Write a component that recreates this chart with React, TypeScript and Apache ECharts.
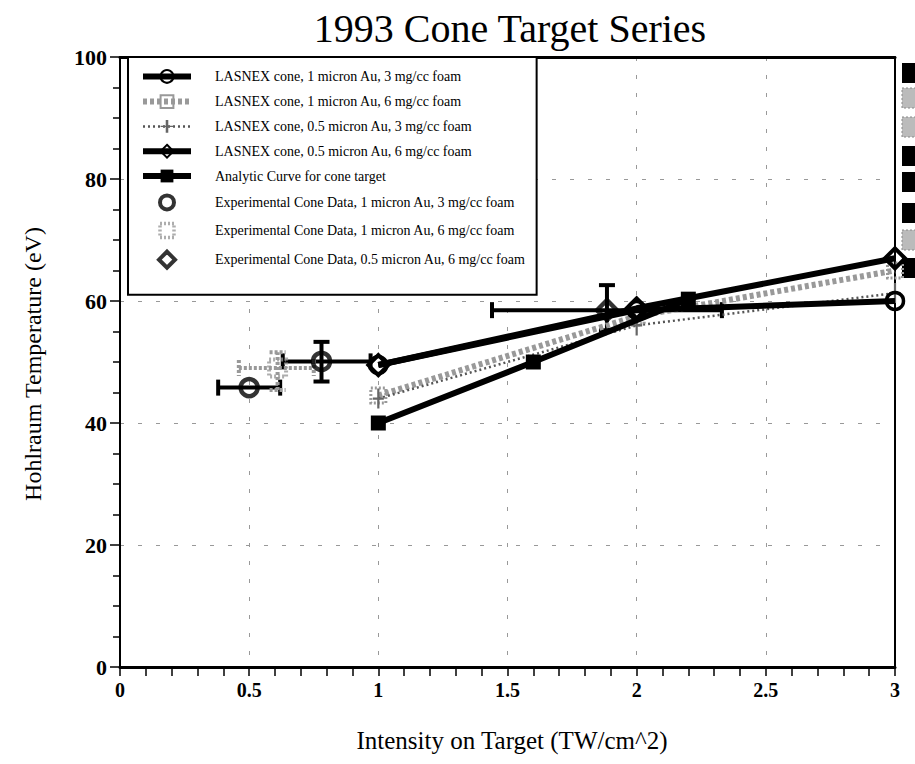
import React, { useEffect, useRef } from "react";
import * as echarts from "echarts";

// ---- data ----
const titleText = "1993 Cone Target Series";
const xName = "Intensity on Target (TW/cm^2)";
const yName = "Hohlraum Temperature (eV)";

const seriesNames = [
  "LASNEX cone, 1 micron Au, 3 mg/cc foam",
  "LASNEX cone, 1 micron Au, 6 mg/cc foam",
  "LASNEX cone, 0.5 micron Au, 3 mg/cc foam",
  "LASNEX cone, 0.5 micron Au, 6 mg/cc foam",
  "Analytic Curve for cone target",
  "Experimental Cone Data, 1 micron Au, 3 mg/cc foam",
  "Experimental Cone Data, 1 micron Au, 6 mg/cc foam",
  "Experimental Cone Data, 0.5 micron Au, 6 mg/cc foam",
];

const lasnex1u3mgX = [1.0, 2.0, 3.0];
const lasnex1u3mgY = [49.5, 58.5, 60.0];
const lasnex1u6mgX = [1.0, 2.0, 3.0];
const lasnex1u6mgY = [44.5, 57.5, 65.0];
const lasnex05u3mgX = [1.0, 2.0, 3.0];
const lasnex05u3mgY = [44.0, 56.0, 61.3];
const lasnex05u6mgX = [1.0, 2.0, 3.0];
const lasnex05u6mgY = [49.5, 58.8, 67.0];
const analyticX = [1.0, 1.6, 2.2];
const analyticY = [40.0, 50.0, 60.3];

// experimental points with error ranges [low, high]
const exp1u3mgX = [0.5, 0.78];
const exp1u3mgY = [45.8, 50.1];
const exp1u3mgXErr = [[0.38, 0.62], [0.63, 0.97]];
const exp1u3mgYErr = [[45.8, 45.8], [46.8, 53.3]];

const exp1u6mgX = [0.61];
const exp1u6mgY = [49.0];
const exp1u6mgXErr = [[0.46, 0.75]];
const exp1u6mgYErr = [[45.4, 51.6]];

const exp05u6mgX = [1.885];
const exp05u6mgY = [58.5];
const exp05u6mgXErr = [[1.44, 2.33]];
const exp05u6mgYErr = [[55.2, 62.6]];

const xTickValues = [0, 0.5, 1, 1.5, 2, 2.5, 3];
const yTickValues = [0, 20, 40, 60, 80, 100];

// partial (cut off) legend blocks at right edge: 1 = black, 0 = gray
const rightBlocks = [1, 0, 0, 1, 1, 1, 0, 1];
const rightBlockTops = [63, 88, 117, 146, 172, 203, 230, 258];

const pts = (xs: number[], ys: number[]) => xs.map((x, i) => [x, ys[i]]);
const errPts = (xs: number[], ys: number[], xe: number[][], ye: number[][]) =>
  xs.map((x, i) => [x, ys[i], xe[i][0], xe[i][1], ye[i][0], ye[i][1]]);

const SERIF = "Liberation Serif";
const plusPath =
  "path://M4,0 L6,0 L6,8 L10,8 L10,10 L6,10 L6,18 L4,18 L4,10 L0,10 L0,8 L4,8 Z";
// legend icons padded to the 48x16 legend box so that they keep their shape
const legendCircleIcon =
  "path://M0,8 L0,8 M48,8 L48,8 M31,8 A7,7 0 1 1 17,8 A7,7 0 1 1 31,8 Z";
const legendSquareIcon = "path://M0,8 L0,8 M48,8 L48,8 M17,1 L31,1 L31,15 L17,15 Z";
const legendDiamondIcon = "path://M0,8 L0,8 M48,8 L48,8 M24,0 L32,8 L24,16 L16,8 Z";

function errorSeries(data: number[][], color: string, dash: number[] | null) {
  return {
    type: "custom",
    silent: true,
    z: 3,
    data,
    encode: { x: 0, y: 1 },
    renderItem: (params: any, api: any) => {
      const x = api.value(0);
      const y = api.value(1);
      const xl = api.value(2);
      const xh = api.value(3);
      const yl = api.value(4);
      const yh = api.value(5);
      const style: any = { stroke: color, lineWidth: 4 };
      if (dash) style.lineDash = dash;
      const children: any[] = [];
      const cap = 8;
      if (xh > xl) {
        const a = api.coord([xl, y]);
        const b = api.coord([xh, y]);
        children.push({ type: "line", shape: { x1: a[0], y1: a[1], x2: b[0], y2: b[1] }, style });
        children.push({ type: "line", shape: { x1: a[0], y1: a[1] - cap, x2: a[0], y2: a[1] + cap }, style });
        children.push({ type: "line", shape: { x1: b[0], y1: b[1] - cap, x2: b[0], y2: b[1] + cap }, style });
      }
      if (yh > yl) {
        const a = api.coord([x, yl]);
        const b = api.coord([x, yh]);
        children.push({ type: "line", shape: { x1: a[0], y1: a[1], x2: b[0], y2: b[1] }, style });
        children.push({ type: "line", shape: { x1: a[0] - cap, y1: a[1], x2: a[0] + cap, y2: a[1] }, style });
        children.push({ type: "line", shape: { x1: b[0] - cap, y1: b[1], x2: b[0] + cap, y2: b[1] }, style });
      }
      return { type: "group", children };
    },
  };
}

export default function App() {
  const ref = useRef<HTMLDivElement>(null);

  useEffect(() => {
    if (!ref.current) return;
    const chart = echarts.init(ref.current, null, { renderer: "svg" });

    const rightGraphics = rightBlocks.map((b, i) => ({
      type: "rect",
      shape: { x: 902, y: rightBlockTops[i], width: 14, height: 20 },
      style: b ? { fill: "#000" } : { fill: "#bbb", stroke: "#888", lineWidth: 1, lineDash: [2, 2] },
    }));

    const lineStyles: any[] = [
      { color: "#000", width: 6 },
      { color: "#999", width: 6, type: [4, 3] },
      { color: "#555", width: 2.5, type: [2, 3] },
      { color: "#000", width: 6 },
      { color: "#000", width: 6 },
    ];
    const legendIcons = [legendCircleIcon, legendSquareIcon, legendDiamondIcon];
    const legendIconStyles: any[] = [
      { color: "rgba(255,255,255,0)", borderColor: "#000", borderWidth: 4 },
      { color: "rgba(255,255,255,0)", borderColor: "#999", borderWidth: 3.5, borderType: [2, 2] },
      { color: "rgba(255,255,255,0)", borderColor: "#000", borderWidth: 4 },
    ];

    const legendData = seriesNames.map((n, i) =>
      i < 5
        ? { name: n, lineStyle: lineStyles[i] }
        : { name: n, icon: legendIcons[i - 5], itemStyle: legendIconStyles[i - 5] }
    );

    const option: any = {
      animation: false,
      backgroundColor: "#fff",
      grid: {
        left: 120,
        right: 20,
        top: 57,
        bottom: 97,
        show: false,
      },
      xAxis: [
        {
          type: "value",
          min: 0,
          max: 3,
          interval: 0.5,
          axisLine: { show: true, onZero: false, lineStyle: { color: "#000", width: 3 } },
          axisTick: { show: true, length: 9, lineStyle: { color: "#000", width: 1.5 } },
          minorTick: { show: true, splitNumber: 5, length: 9, lineStyle: { color: "#000", width: 1.5 } },
          axisLabel: {
            color: "#000",
            fontFamily: SERIF,
            fontWeight: "bold",
            fontSize: 20,
            margin: 13,
            formatter: (v: number) => (xTickValues.includes(v) ? String(v) : ""),
          },
          splitLine: { show: true, lineStyle: { color: "#999", width: 1, type: [4, 14] } },
        },
        {
          type: "value",
          position: "top",
          min: 0,
          max: 3,
          interval: 0.5,
          axisLine: { show: true, onZero: false, lineStyle: { color: "#000", width: 3 } },
          axisTick: { show: false },
          axisLabel: { show: false },
          splitLine: { show: false },
        },
      ],
      yAxis: [
        {
          type: "value",
          min: 0,
          max: 100,
          interval: 20,
          axisLine: { show: true, onZero: false, lineStyle: { color: "#000", width: 2 } },
          axisTick: { show: true, length: 10, lineStyle: { color: "#000", width: 1.5 } },
          minorTick: { show: true, splitNumber: 4, length: 7, lineStyle: { color: "#000", width: 1.5 } },
          axisLabel: {
            color: "#000",
            fontFamily: SERIF,
            fontWeight: "bold",
            fontSize: 22,
            margin: 13,
            formatter: (v: number) => (yTickValues.includes(v) ? String(v) : ""),
          },
          splitLine: { show: true, lineStyle: { color: "#999", width: 1, type: [4, 14] } },
        },
        {
          type: "value",
          position: "right",
          min: 0,
          max: 100,
          interval: 20,
          axisLine: { show: true, onZero: false, lineStyle: { color: "#000", width: 2 } },
          axisTick: { show: false },
          axisLabel: { show: false },
          splitLine: { show: false },
        },
      ],
      legend: {
        orient: "vertical",
        left: 128,
        top: 57,
        padding: [12, 11, 25, 12],
        itemWidth: 48,
        itemHeight: 16,
        itemGap: 10.4,
        backgroundColor: "#fff",
        borderColor: "#000",
        borderWidth: 2,
        borderRadius: 0,
        selectedMode: false,
        textStyle: { fontFamily: SERIF, fontSize: 14, color: "#000", padding: [0, 0, 0, 19] },
        data: legendData,
      },
      graphic: [
        {
          type: "text",
          x: 510,
          y: 28,
          style: {
            text: titleText,
            font: `40px "${SERIF}"`,
            fill: "#000",
            textAlign: "center",
            textVerticalAlign: "middle",
          },
        },
        {
          type: "text",
          x: 512,
          y: 740,
          style: {
            text: xName,
            font: `25px "${SERIF}"`,
            fill: "#000",
            textAlign: "center",
            textVerticalAlign: "middle",
          },
        },
        {
          type: "text",
          x: 33,
          y: 364,
          rotation: Math.PI / 2,
          style: {
            text: yName,
            font: `24px "${SERIF}"`,
            fill: "#000",
            textAlign: "center",
            textVerticalAlign: "middle",
          },
        },
        ...rightGraphics,
      ],
      series: [
        {
          name: seriesNames[0],
          type: "line",
          data: pts(lasnex1u3mgX, lasnex1u3mgY),
          symbol: "circle",
          symbolSize: 17,
          lineStyle: lineStyles[0],
          itemStyle: { color: "rgba(255,255,255,0)", borderColor: "#000", borderWidth: 3.5 },
          z: 4,
        },
        {
          name: seriesNames[1],
          type: "line",
          data: pts(lasnex1u6mgX, lasnex1u6mgY),
          symbol: "rect",
          symbolSize: 15,
          lineStyle: lineStyles[1],
          itemStyle: { color: "rgba(255,255,255,0)", borderColor: "#999", borderWidth: 3, borderType: [2, 2] },
          z: 3,
        },
        {
          name: seriesNames[2],
          type: "line",
          data: pts(lasnex05u3mgX, lasnex05u3mgY),
          symbol: plusPath,
          symbolSize: [11, 20],
          lineStyle: lineStyles[2],
          itemStyle: { color: "#666" },
          z: 3,
        },
        {
          name: seriesNames[3],
          type: "line",
          data: pts(lasnex05u6mgX, lasnex05u6mgY),
          symbol: "diamond",
          symbolSize: 20,
          lineStyle: lineStyles[3],
          itemStyle: { color: "rgba(255,255,255,0)", borderColor: "#000", borderWidth: 4 },
          z: 4,
        },
        {
          name: seriesNames[4],
          type: "line",
          data: pts(analyticX, analyticY),
          symbol: "rect",
          symbolSize: 15,
          lineStyle: lineStyles[4],
          itemStyle: { color: "#000" },
          z: 4,
        },
        {
          name: seriesNames[5],
          type: "scatter",
          data: pts(exp1u3mgX, exp1u3mgY),
          symbol: "circle",
          symbolSize: 17,
          itemStyle: { color: "rgba(255,255,255,0)", borderColor: "#000", borderWidth: 4.5 },
          z: 5,
        },
        {
          name: seriesNames[6],
          type: "scatter",
          data: pts(exp1u6mgX, exp1u6mgY),
          symbol: "rect",
          symbolSize: 17,
          itemStyle: { color: "rgba(255,255,255,0)", borderColor: "#999", borderWidth: 4, borderType: [2, 2] },
          z: 5,
        },
        {
          name: seriesNames[7],
          type: "scatter",
          data: pts(exp05u6mgX, exp05u6mgY),
          symbol: "diamond",
          symbolSize: 20,
          itemStyle: { color: "rgba(255,255,255,0)", borderColor: "#000", borderWidth: 4.5 },
          z: 5,
        },
        errorSeries(errPts(exp1u3mgX, exp1u3mgY, exp1u3mgXErr, exp1u3mgYErr), "#000", null),
        errorSeries(errPts(exp1u6mgX, exp1u6mgY, exp1u6mgXErr, exp1u6mgYErr), "#999", [3, 2]),
        errorSeries(errPts(exp05u6mgX, exp05u6mgY, exp05u6mgXErr, exp05u6mgYErr), "#000", null),
      ],
    };

    chart.setOption(option);
    return () => chart.dispose();
  }, []);

  return <div ref={ref} style={{ width: 915, height: 764, position: "absolute", left: 0, top: 0 }} />;
}
